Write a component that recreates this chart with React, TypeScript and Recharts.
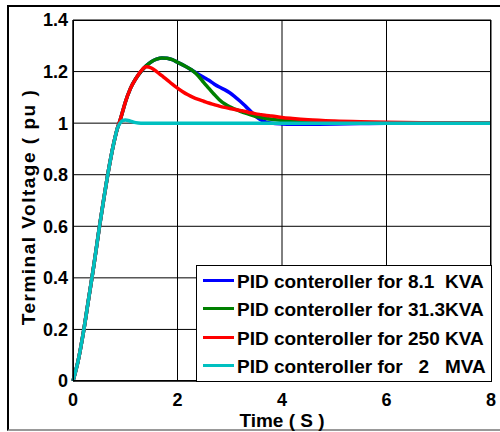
import React from 'react';
import { LineChart, Line, XAxis, YAxis, CartesianGrid } from 'recharts';

const time = [0, 0.1, 0.2, 0.3, 0.4, 0.5, 0.6, 0.7, 0.8, 0.85, 0.9, 0.95, 1.0, 1.1, 1.2, 1.3, 1.4, 1.5, 1.6, 1.7, 1.8, 1.9, 2.0, 2.1, 2.2, 2.3, 2.4, 2.5, 2.6, 2.7, 2.8, 2.9, 3.0, 3.1, 3.2, 3.3, 3.4, 3.5, 3.6, 3.7, 3.8, 4.0, 4.2, 4.5, 5.0, 5.5, 6.0, 7.0, 8.0];

const kva81 = [0, 0.08, 0.19, 0.32, 0.45, 0.59, 0.72, 0.84, 0.94, 0.98, 1.01, 1.045, 1.08, 1.135, 1.172, 1.2, 1.222, 1.238, 1.248, 1.253, 1.252, 1.246, 1.236, 1.226, 1.215, 1.202, 1.19, 1.178, 1.166, 1.152, 1.14, 1.13, 1.118, 1.102, 1.085, 1.066, 1.046, 1.026, 1.012, 1.004, 1.0, 0.997, 0.996, 0.996, 0.997, 0.999, 1.0, 1.0, 1.0];

const kva313 = [0, 0.08, 0.19, 0.32, 0.45, 0.59, 0.72, 0.84, 0.94, 0.98, 1.01, 1.045, 1.08, 1.135, 1.172, 1.2, 1.222, 1.238, 1.248, 1.253, 1.252, 1.246, 1.236, 1.226, 1.215, 1.202, 1.183, 1.158, 1.135, 1.112, 1.091, 1.075, 1.063, 1.054, 1.046, 1.039, 1.032, 1.026, 1.022, 1.018, 1.015, 1.011, 1.008, 1.005, 1.002, 1.001, 1.0, 1.0, 1.0];

const kva250 = [0, 0.08, 0.19, 0.32, 0.45, 0.59, 0.72, 0.84, 0.94, 0.98, 1.01, 1.045, 1.08, 1.135, 1.172, 1.202, 1.219, 1.214, 1.2, 1.184, 1.168, 1.151, 1.136, 1.122, 1.11, 1.1, 1.092, 1.085, 1.078, 1.072, 1.066, 1.061, 1.057, 1.053, 1.049, 1.045, 1.04, 1.036, 1.033, 1.03, 1.028, 1.022, 1.018, 1.013, 1.008, 1.005, 1.003, 1.001, 1.0];

const mva2 = [0, 0.08, 0.19, 0.32, 0.45, 0.59, 0.72, 0.84, 0.94, 0.98, 1.0, 1.01, 1.012, 1.008, 1.002, 1.0, 1.0, 1.0, 1.0, 1.0, 1.0, 1.0, 1.0, 1.0, 1.0, 1.0, 1.0, 1.0, 1.0, 1.0, 1.0, 1.0, 1.0, 1.0, 1.0, 1.0, 1.0, 1.0, 1.0, 1.0, 1.0, 1.0, 1.0, 1.0, 1.0, 1.0, 1.0, 1.0, 1.0];

const seriesNames = [
  'PID conteroller for 8.1\u00a0\u00a0KVA',
  'PID conteroller for 31.3KVA',
  'PID conteroller for 250 KVA',
  'PID conteroller for \u00a0\u00a02\u00a0\u00a0\u00a0MVA',
];
const seriesKeys = ['kva81', 'kva313', 'kva250', 'mva2'];
const seriesColors = ['#0000FF', '#008000', '#FF0000', '#00C0C0'];

const xTicks = [0, 2, 4, 6, 8];
const yTicks = [0, 0.2, 0.4, 0.6, 0.8, 1.0, 1.2, 1.4];
const yTickLabels = ['0', '0.2', '0.4', '0.6', '0.8', '1', '1.2', '1.4'];
const xLabel = 'Time ( S )';
const yLabel = 'Terminal Voltage ( pu )';

const data = time.map((t, i) => ({
  t,
  kva81: kva81[i],
  kva313: kva313[i],
  kva250: kva250[i],
  mva2: mva2[i],
}));

const FONT = '"Liberation Sans", Arial, sans-serif';

export default function App() {
  const tickStyle = { fontFamily: FONT, fontWeight: 'bold' as const, fontSize: 18, fill: '#000' };
  return (
    <div style={{ position: 'absolute', left: 0, top: 0, width: 500, height: 432, overflow: 'hidden', background: '#fff' }}>
      <div style={{ position: 'absolute', left: 7, top: 5, width: 600, height: 422, borderLeft: '2px solid #000', borderTop: '2px solid #000', borderBottom: '2px solid #999' }} />
      <div style={{ position: 'absolute', left: 0, top: 0 }}>
        <LineChart width={500} height={432} data={data} margin={{ top: 20, right: 9, left: 0, bottom: 0 }}>
          <CartesianGrid stroke="#000" strokeWidth={1} horizontalValues={yTicks} verticalValues={xTicks} />
          <XAxis
            dataKey="t"
            type="number"
            domain={[0, 8]}
            ticks={xTicks}
            height={51}
            tickSize={0}
            tickMargin={12}
            tickLine={false}
            axisLine={{ stroke: '#000' }}
            tick={tickStyle}
            interval={0}
          />
          <YAxis
            type="number"
            domain={[0, 1.4]}
            ticks={yTicks}
            width={73}
            tickSize={0}
            tickMargin={5}
            tickLine={false}
            axisLine={{ stroke: '#000' }}
            tick={tickStyle}
            interval={0}
            tickFormatter={(v: number) => yTickLabels[yTicks.indexOf(v)] ?? String(v)}
          />
          {seriesKeys.map((k, i) => (
            <Line
              key={k}
              dataKey={k}
              name={seriesNames[i]}
              type="monotone"
              stroke={seriesColors[i]}
              strokeWidth={3.5}
              dot={false}
              isAnimationActive={false}
            />
          ))}
        </LineChart>
      </div>
      {/* plot frame */}
      <div style={{ position: 'absolute', left: 73, top: 20, width: 418, height: 361, border: '1px solid #000', boxSizing: 'border-box', pointerEvents: 'none' }} />
      {/* legend */}
      <div style={{ position: 'absolute', left: 196, top: 265, width: 296, height: 117, border: '1px solid #000', boxSizing: 'border-box', background: '#fff' }}>
        {seriesNames.map((n, i) => (
          <div key={n} style={{ position: 'absolute', left: 0, top: 1 + i * 28.3, height: 28.3, width: 294 }}>
            <div style={{ position: 'absolute', left: 6, top: 12, width: 31, height: 3, background: seriesColors[i] }} />
            <div style={{ position: 'absolute', left: 40, top: 1, height: 28.3, lineHeight: '28.3px', fontFamily: FONT, fontWeight: 'bold', fontSize: 19, color: '#000', whiteSpace: 'nowrap' }}>{n}</div>
          </div>
        ))}
      </div>
      {/* axis titles */}
      <div style={{ position: 'absolute', left: 28, top: 207, transform: 'translate(-50%, -50%) rotate(-90deg)', fontFamily: FONT, fontWeight: 'bold', fontSize: 19, lineHeight: 1, letterSpacing: 1.5, whiteSpace: 'nowrap', color: '#000' }}>{yLabel}</div>
      <div style={{ position: 'absolute', left: 282, top: 420, transform: 'translate(-50%, -50%)', fontFamily: FONT, fontWeight: 'bold', fontSize: 19, lineHeight: 1, whiteSpace: 'nowrap', color: '#000' }}>{xLabel}</div>
    </div>
  );
}
